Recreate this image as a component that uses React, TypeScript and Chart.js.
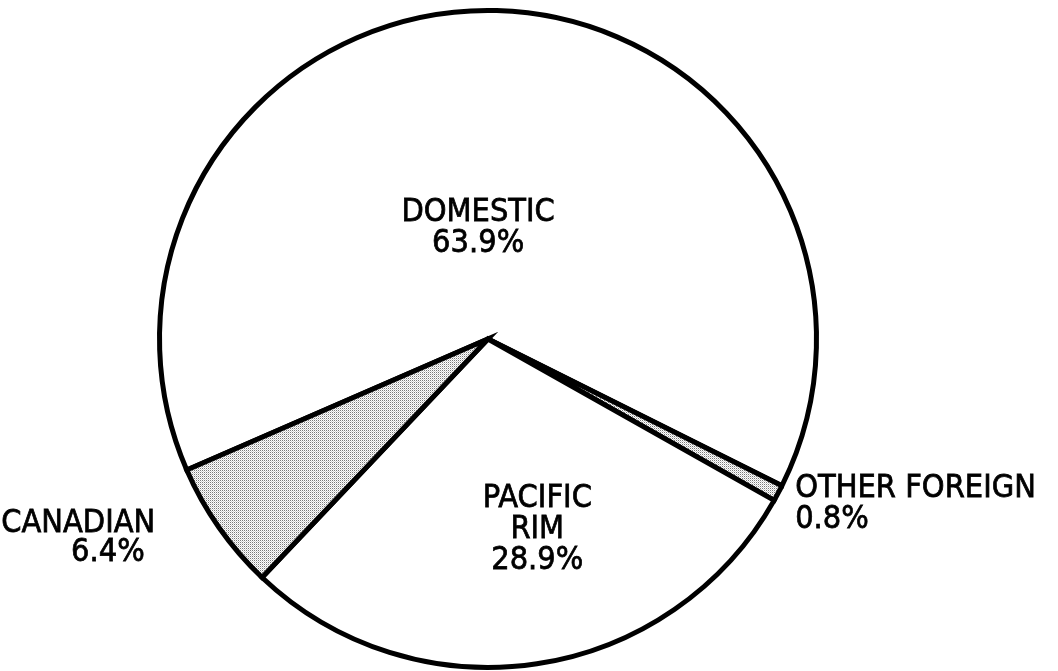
import React, { useEffect, useRef } from "react";
import { Chart, registerables } from "chart.js";

Chart.register(...registerables);

const categories = ["DOMESTIC", "OTHER FOREIGN", "PACIFIC RIM", "CANADIAN"];
const shares = [63.9, 0.8, 28.9, 6.4];
const shareLabels = ["63.9%", "0.8%", "28.9%", "6.4%"];
const stippled = [false, true, false, true];

function makeStipple(): CanvasPattern | string {
  const c = document.createElement("canvas");
  c.width = 2;
  c.height = 2;
  const g = c.getContext("2d");
  if (!g) return "#dcdcdc";
  g.fillStyle = "#ffffff";
  g.fillRect(0, 0, 2, 2);
  g.fillStyle = "#7a7a7a";
  g.fillRect(0, 0, 1, 1);
  g.fillStyle = "#d0d0d0";
  g.fillRect(1, 1, 1, 1);
  const p = g.createPattern(c, "repeat");
  return p || "#dcdcdc";
}

const labelPlugin = {
  id: "pieLabels",
  afterDatasetsDraw(chart: any) {
    const ctx = chart.ctx;
    const arc = chart.getDatasetMeta(0).data[0];
    const cx = arc.x;
    const cy = arc.y;
    const r = arc.outerRadius;
    ctx.save();
    ctx.fillStyle = "#000";
    ctx.strokeStyle = "#000";
    ctx.lineWidth = 0.7;
    ctx.textBaseline = "middle";
    const lh = 31;
    const drawLine = (t: string, x: number, y: number, align: string) => {
      ctx.save();
      ctx.translate(x, y);
      ctx.scale(1.0, 1.1);
      ctx.textAlign = align;
      ctx.font = "29px 'DejaVu Sans'";
      ctx.fillText(t, 0, 0);
      ctx.strokeText(t, 0, 0);
      ctx.restore();
    };
    const put = (lines: string[], fx: number, fy: number, align: string) => {
      lines.forEach((t, i) => drawLine(t, cx + fx * r, cy + fy * r + i * lh, align));
    };
    // DOMESTIC
    put([categories[0], shareLabels[0]], -0.03, -0.385, "center");
    // PACIFIC RIM
    put(["PACIFIC", "RIM", shareLabels[2]], 0.15, 0.485, "center");
    // OTHER FOREIGN
    put([categories[1], shareLabels[1]], 0.935, 0.455, "left");
    // CANADIAN
    drawLine(categories[3], cx - 1.013 * r, cy + 0.562 * r, "right");
    drawLine(shareLabels[3], cx - 1.045 * r, cy + 0.562 * r + 29, "right");
    ctx.restore();
  },
};

export default function App() {
  const ref = useRef<HTMLCanvasElement | null>(null);
  useEffect(() => {
    document.body.style.margin = "0";
    const canvas = ref.current;
    if (!canvas) return;
    const pat = makeStipple();
    const chart = new Chart(canvas, {
      type: "pie",
      data: {
        labels: categories,
        datasets: [
          {
            data: shares,
            backgroundColor: stippled.map((s) => (s ? pat : "#ffffff")),
            borderColor: "#000000",
            borderWidth: 5,
            borderJoinStyle: "miter",
            borderAlign: "center",
          } as any,
        ],
      },
      options: {
        responsive: false,
        animation: false,
        rotation: 246.5,
        layout: { padding: { left: 157, right: 239, top: 8, bottom: 1 } },
        plugins: {
          legend: { display: false },
          tooltip: { enabled: false },
        },
      },
      plugins: [labelPlugin],
    });
    return () => chart.destroy();
  }, []);
  return (
    <div style={{ position: "absolute", left: 0, top: 0, width: 1058, height: 671, background: "#fff" }}>
      <canvas ref={ref} width={1058} height={671} />
    </div>
  );
}
